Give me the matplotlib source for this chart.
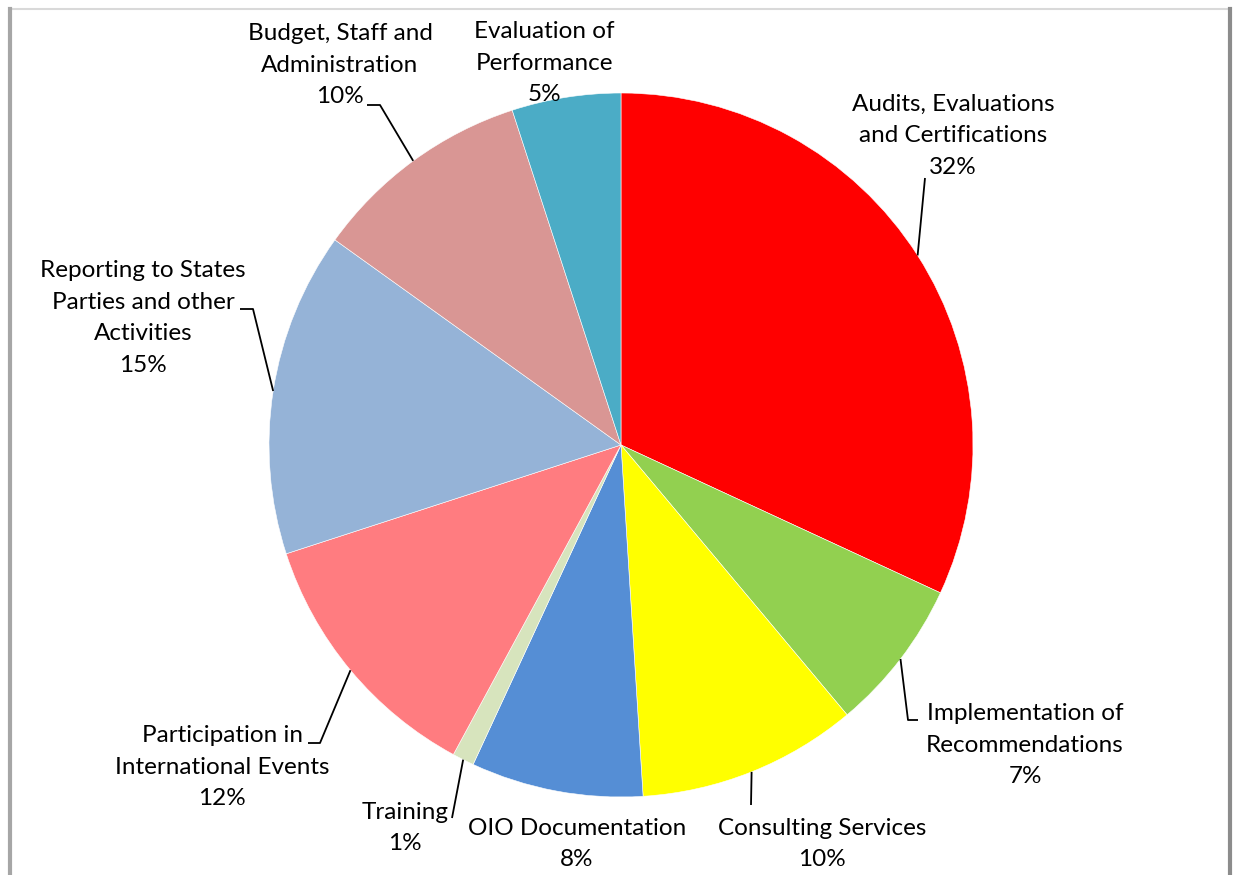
import numpy as np
import matplotlib.pyplot as plt
from matplotlib.lines import Line2D

plt.rcParams['font.family'] = ['Lato', 'DejaVu Sans']

labels = ['Audits, Evaluations\nand Certifications',
          'Implementation of\nRecommendations',
          'Consulting Services',
          'OIO Documentation',
          'Training',
          'Participation in\nInternational Events',
          'Reporting to States\nParties and other\nActivities',
          'Budget, Staff and\nAdministration',
          'Evaluation of\nPerformance']
values = [31.9, 7.0, 10.1, 7.9, 1.0, 12.1, 14.9, 10.1, 5.0]
colors = ['#FF0000', '#92D050', '#FFFF00', '#558ED5', '#D7E4BD',
          '#FF7C80', '#95B3D7', '#D99694', '#4BACC6']

W, H = 1238, 875
fig = plt.figure(figsize=(W / 100, H / 100), dpi=100)
ax = fig.add_axes([0, 0, 1, 1])

cx, cy, r = 621, H - 445, 352
wedges, _ = ax.pie(values, colors=colors, startangle=90, counterclock=False,
                   center=(cx, cy), radius=r,
                   wedgeprops=dict(linewidth=0.4, edgecolor='white'))
ax.set_xlim(0, W)
ax.set_ylim(0, H)
ax.set_aspect('equal')
ax.axis('off')

# label text centres (pixels from top-left) and leader bends
text_pos = [(953, 136), (1025, 745), (822, 844), (577, 844), (405, 828),
            (222, 767), (143, 318), (340, 65), (544, 63)]
leaders = [[(925, 178)], [(908, 720), (918, 720)], [(751, 805)], None,
           [(452, 818)], [(320, 743), (308, 743)], [(253, 309), (240, 309)],
           [(380, 105), (367, 105)], None]

total = sum(values)
for w, lab, v, tp, ld in zip(wedges, labels, values, text_pos, leaders):
    txt = '%s\n%.0f%%' % (lab, v / total * 100)
    ax.text(tp[0], H - tp[1], txt, ha='center', va='center', fontsize=17.5,
            linespacing=1.62, color='black')
    if ld:
        mid = np.deg2rad((w.theta1 + w.theta2) / 2)
        ex, ey = cx + r * np.cos(mid), cy + r * np.sin(mid)
        xs = [ex] + [p[0] for p in ld]
        ys = [ey] + [H - p[1] for p in ld]
        ax.plot(xs, ys, color='black', linewidth=1.3, solid_capstyle='butt')

# chart frame
fig.add_artist(Line2D([10 / W, 1229 / W], [1 - 9 / H, 1 - 9 / H],
                      color='#D9D9D9', linewidth=1.5))
fig.add_artist(Line2D([10 / W, 10 / W], [0, 1 - 9 / H],
                      color='#A6A6A6', linewidth=3))
fig.add_artist(Line2D([1230 / W, 1230 / W], [0, 1 - 9 / H],
                      color='#8C8C8C', linewidth=3))

fig.savefig('out.png', dpi=100)
